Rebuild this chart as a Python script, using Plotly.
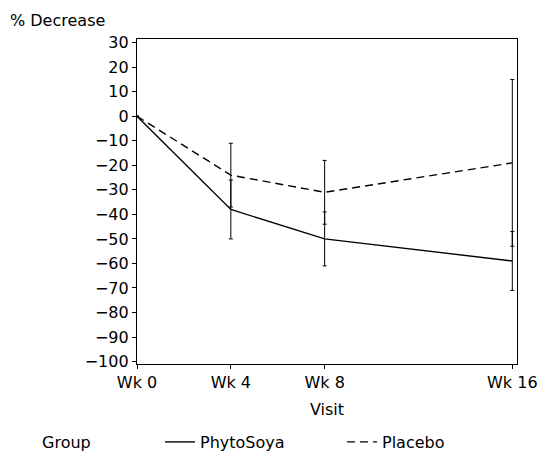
import plotly.graph_objects as go

weeks = [0, 4, 8, 16]
week_labels = ["Wk 0", "Wk 4", "Wk 8", "Wk 16"]
phyto_mean = [0, -38, -50, -59]
phyto_err = [0, 12, 11, 12]
placebo_mean = [0, -24, -31, -19]
placebo_err = [0, 13, 13, 34]
y_ticks = [30, 20, 10, 0, -10, -20, -30, -40, -50, -60, -70, -80, -90, -100]

FONT = "DejaVu Sans"
FS = 16
W, H = 542, 453

fig = go.Figure()
fig.add_trace(go.Scatter(
    x=weeks, y=phyto_mean, mode="lines", name="PhytoSoya",
    line=dict(color="black", width=1.4, dash="solid"),
    error_y=dict(type="data", array=phyto_err, visible=True, color="black", thickness=1, width=2),
))
fig.add_trace(go.Scatter(
    x=weeks, y=placebo_mean, mode="lines", name="Placebo",
    line=dict(color="black", width=1.4, dash="8px,5px"),
    error_y=dict(type="data", array=placebo_err, visible=True, color="black", thickness=1, width=2),
))

fig.update_layout(
    width=W, height=H,
    margin=dict(l=137, r=25, t=39, b=89, autoexpand=False),
    paper_bgcolor="white", plot_bgcolor="white",
    font=dict(family=FONT, size=FS, color="black"),
    showlegend=True,
    legend=dict(
        orientation="h", xref="container", yref="container",
        x=160 / W, xanchor="left", y=1 - 442 / H, yanchor="middle",
        font=dict(size=FS), itemwidth=30, tracegroupgap=0,
        entrywidth=137, entrywidthmode="pixels",
        bgcolor="rgba(0,0,0,0)",
    ),
    xaxis=dict(
        range=[0, 16.2], tickmode="array", tickvals=weeks, ticktext=week_labels,
        showline=True, linecolor="black", linewidth=1.3, mirror=True,
        ticks="outside", ticklen=4, tickcolor="black",
        showgrid=False, zeroline=False, ticklabeloverflow="allow",
        automargin=False,
        title=dict(text="Visit", font=dict(size=FS), standoff=12),
    ),
    yaxis=dict(
        range=[-101, 31.5], tickmode="array", tickvals=y_ticks,
        ticktext=[("\u2212" + str(-v)) if v < 0 else str(v) for v in y_ticks],
        showline=True, linecolor="black", linewidth=1.3, mirror=True,
        ticks="outside", ticklen=4, tickcolor="black",
        showgrid=False, zeroline=False, automargin=False,
    ),
    annotations=[
        dict(text="% Decrease", xref="paper", yref="paper", x=(8 - 137) / 380, y=1.02,
             xanchor="left", yanchor="bottom", showarrow=False, font=dict(size=FS)),
        dict(text="Group", xref="paper", yref="paper", x=(40 - 137) / 380,
             y=(364 - 442) / 325, xanchor="left", yanchor="middle", showarrow=False,
             font=dict(size=FS)),
    ],
)

fig.write_html(
    "out.html",
    config={"displayModeBar": False},
    post_script="document.body.style.margin='0';document.body.style.padding='0';",
)
